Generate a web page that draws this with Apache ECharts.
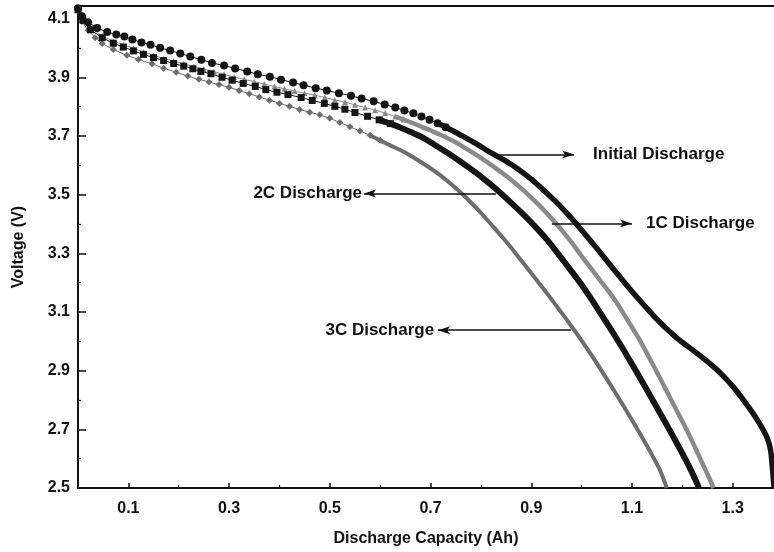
<!DOCTYPE html>
<html>
<head>
<meta charset="UTF-8">
<script src="https://cdn.jsdelivr.net/npm/echarts@6/dist/echarts.min.js"></script>
<style>
  html, body { margin: 0; padding: 0; background: #fff; }
  #chart { width: 774px; height: 552px; }
</style>
</head>
<body>
<div id="chart"></div>
<script>
// discharge curves: [capacity (Ah), voltage (V)]
var initialDischarge = [
  [0.000,4.135],[0.008,4.108],[0.020,4.088],[0.038,4.068],[0.058,4.054],[0.076,4.046],[0.092,4.039],
  [0.108,4.029],[0.126,4.019],[0.144,4.011],[0.163,4.001],[0.183,3.991],[0.203,3.981],[0.223,3.971],
  [0.245,3.960],[0.266,3.949],[0.290,3.940],[0.312,3.930],[0.336,3.920],[0.357,3.910],[0.381,3.902],
  [0.403,3.892],[0.427,3.882],[0.448,3.873],[0.472,3.863],[0.494,3.855],[0.518,3.846],[0.542,3.837],
  [0.563,3.828],[0.587,3.818],[0.609,3.807],[0.630,3.797],[0.648,3.787],[0.666,3.777],[0.682,3.766],
  [0.698,3.755],[0.714,3.743],[0.730,3.730],[0.746,3.716],[0.763,3.700],[0.780,3.684],[0.797,3.667],
  [0.812,3.651],[0.826,3.637],[0.848,3.616],[0.870,3.592],[0.900,3.553],[0.929,3.508],[0.955,3.465],
  [0.980,3.419],[1.000,3.379],[1.032,3.313],[1.064,3.245],[1.098,3.174],[1.134,3.104],[1.156,3.064],
  [1.174,3.034],[1.190,3.010],[1.208,2.986],[1.233,2.954],[1.259,2.918],[1.280,2.884],[1.299,2.849],
  [1.317,2.810],[1.333,2.772],[1.347,2.737],[1.358,2.706],[1.366,2.680],[1.372,2.653],[1.376,2.620],
  [1.378,2.585],[1.380,2.545],[1.382,2.503]
];
var discharge1C = [
  [0.000,4.132],[0.010,4.098],[0.025,4.070],[0.048,4.040],[0.070,4.024],[0.090,4.011],[0.110,3.999],
  [0.130,3.986],[0.150,3.975],[0.170,3.964],[0.190,3.955],[0.210,3.946],[0.230,3.937],[0.250,3.928],
  [0.270,3.919],[0.290,3.910],[0.310,3.901],[0.330,3.893],[0.350,3.885],[0.370,3.877],[0.390,3.869],
  [0.410,3.861],[0.430,3.853],[0.450,3.846],[0.470,3.839],[0.490,3.831],[0.510,3.823],[0.530,3.815],
  [0.550,3.806],[0.570,3.797],[0.590,3.788],[0.610,3.778],[0.630,3.766],[0.647,3.756],[0.663,3.745],
  [0.680,3.733],[0.697,3.721],[0.714,3.708],[0.731,3.695],[0.748,3.680],[0.765,3.663],[0.783,3.644],
  [0.800,3.625],[0.818,3.604],[0.836,3.582],[0.853,3.560],[0.870,3.536],[0.890,3.506],[0.912,3.470],
  [0.935,3.429],[0.958,3.384],[0.980,3.337],[1.001,3.288],[1.034,3.214],[1.068,3.136],[1.092,3.070],
  [1.114,3.008],[1.134,2.945],[1.154,2.880],[1.181,2.790],[1.208,2.700],[1.224,2.643],[1.239,2.587],
  [1.250,2.547],[1.259,2.512],[1.262,2.500]
];
var discharge2C = [
  [0.000,4.130],[0.010,4.094],[0.025,4.062],[0.048,4.035],[0.070,4.016],[0.090,4.003],[0.110,3.990],
  [0.130,3.978],[0.150,3.967],[0.170,3.957],[0.190,3.947],[0.210,3.938],[0.228,3.929],[0.244,3.920],
  [0.264,3.912],[0.286,3.900],[0.306,3.890],[0.328,3.879],[0.352,3.869],[0.373,3.858],[0.395,3.849],
  [0.417,3.841],[0.443,3.831],[0.465,3.821],[0.489,3.811],[0.510,3.801],[0.530,3.791],[0.550,3.780],
  [0.575,3.767],[0.598,3.755],[0.620,3.742],[0.640,3.729],[0.660,3.714],[0.683,3.696],[0.707,3.671],
  [0.731,3.645],[0.754,3.619],[0.777,3.591],[0.802,3.559],[0.826,3.525],[0.850,3.488],[0.876,3.446],
  [0.905,3.396],[0.932,3.345],[0.965,3.272],[1.001,3.190],[1.028,3.121],[1.055,3.049],[1.074,2.997],
  [1.094,2.940],[1.114,2.881],[1.141,2.800],[1.168,2.718],[1.188,2.656],[1.207,2.595],[1.219,2.554],
  [1.229,2.516],[1.233,2.500]
];
var discharge3C = [
  [0.000,4.128],[0.008,4.090],[0.020,4.060],[0.034,4.035],[0.048,4.015],[0.070,3.995],[0.097,3.975],
  [0.120,3.961],[0.147,3.946],[0.170,3.931],[0.195,3.917],[0.218,3.904],[0.240,3.893],[0.260,3.884],
  [0.280,3.875],[0.300,3.866],[0.320,3.855],[0.340,3.844],[0.360,3.833],[0.380,3.822],[0.400,3.811],
  [0.420,3.801],[0.440,3.790],[0.460,3.781],[0.480,3.772],[0.500,3.760],[0.520,3.746],[0.540,3.731],
  [0.560,3.717],[0.580,3.702],[0.600,3.685],[0.620,3.668],[0.640,3.652],[0.663,3.630],[0.690,3.601],
  [0.717,3.569],[0.743,3.533],[0.763,3.502],[0.783,3.468],[0.802,3.434],[0.830,3.380],[0.850,3.340],
  [0.870,3.298],[0.902,3.228],[0.935,3.155],[0.968,3.079],[0.985,3.039],[1.001,3.000],[1.020,2.952],
  [1.041,2.896],[1.068,2.822],[1.094,2.749],[1.118,2.679],[1.140,2.612],[1.155,2.563],[1.166,2.515],
  [1.169,2.500]
];

var xTickLabels = [0.1, 0.3, 0.5, 0.7, 0.9, 1.1, 1.3];
var xMinorTicks = [0.2, 0.4, 0.6, 0.8, 1.0, 1.2];
var yTickLabels = [2.5, 2.7, 2.9, 3.1, 3.3, 3.5, 3.7, 3.9, 4.1];
var yMinorTicks = [2.6, 2.8, 3.0, 3.2, 3.4, 3.6, 3.8, 4.0];

var FONT = "'Liberation Sans', Arial, sans-serif";
var INK = '#111';
var X_MAX = 1.382, Y_MIN = 2.5, Y_MAX = 4.143;

// split = where the markers merge into a solid band in the figure
var curves = [
  { name: '3C Discharge', data: discharge3C, symbol: 'diamond', size: 7, color: '#6d6d6d',
    split: 0.60, band: 4, arrow: [[0.979, 3.038], [0.715, 3.038]], gap: 4 },
  { name: '1C Discharge', data: discharge1C, symbol: 'triangle', size: 6, color: '#8a8a8a',
    split: 0.66, band: 4.5, arrow: [[0.941, 3.402], [1.100, 3.402]], gap: 14 },
  { name: '2C Discharge', data: discharge2C, symbol: 'rect', size: 7, color: '#151515',
    split: 0.62, band: 6, arrow: [[0.830, 3.504], [0.568, 3.504]], gap: 2 },
  { name: 'Initial Discharge', data: initialDischarge, symbol: 'circle', size: 8, color: '#151515',
    split: 0.74, band: 5.5, arrow: [[0.822, 3.637], [0.985, 3.637]], gap: 19 }
];

var series = [];
curves.forEach(function (c) {
  series.push({
    type: 'line',
    name: c.name,
    data: c.data.filter(function (p) { return p[0] <= c.split; }),
    symbol: c.symbol,
    symbolSize: c.size,
    itemStyle: { color: c.color },
    lineStyle: { color: c.color, width: 1 },
    animation: false
  });
  series.push({
    type: 'line',
    data: c.data.filter(function (p) { return p[0] >= c.split - 0.03; }),
    symbol: 'none',
    smooth: 0.3,
    lineStyle: { color: c.color, width: c.band },
    animation: false,
    markLine: {
      silent: true,
      animation: false,
      symbol: ['none', 'arrow'],
      symbolSize: [6, 12],
      lineStyle: { color: INK, width: 1.5, type: 'solid' },
      label: {
        show: true, position: 'end', distance: c.gap, formatter: c.name,
        color: INK, fontSize: 17, fontWeight: 'bold', fontFamily: FONT
      },
      data: [[{ coord: c.arrow[0] }, { coord: c.arrow[1] }]]
    }
  });
});

var labelStyle = { color: INK, fontSize: 16, fontWeight: 'bold', fontFamily: FONT };

var chart = echarts.init(document.getElementById('chart'));
chart.setOption({
  backgroundColor: '#fff',
  animation: false,
  grid: { left: 78, right: 0, top: 6, bottom: 64 },
  xAxis: [
    {
      type: 'value', min: 0, max: X_MAX, position: 'bottom',
      name: 'Discharge Capacity (Ah)', nameLocation: 'middle', nameGap: 43,
      nameTextStyle: labelStyle,
      axisLine: { lineStyle: { color: INK, width: 2 } },
      axisTick: { inside: true, length: 5, customValues: xTickLabels, lineStyle: { color: INK, width: 1.5 } },
      axisLabel: Object.assign({ customValues: xTickLabels, margin: 13 }, labelStyle),
      splitLine: { show: false }
    },
    {
      type: 'value', min: 0, max: X_MAX, position: 'bottom',
      axisLine: { show: false },
      axisTick: { inside: true, length: 3, customValues: xMinorTicks, lineStyle: { color: INK, width: 1.2 } },
      axisLabel: { show: false },
      splitLine: { show: false }
    },
    {
      type: 'value', min: 0, max: X_MAX, position: 'top',
      axisLine: { lineStyle: { color: INK, width: 2 } },
      axisTick: { show: false }, axisLabel: { show: false }, splitLine: { show: false }
    }
  ],
  yAxis: [
    {
      type: 'value', min: Y_MIN, max: Y_MAX, position: 'left',
      name: 'Voltage (V)', nameLocation: 'middle', nameGap: 51,
      nameTextStyle: labelStyle,
      axisLine: { lineStyle: { color: INK, width: 2 } },
      axisTick: { inside: true, length: 8, customValues: yTickLabels, lineStyle: { color: INK, width: 1.5 } },
      axisLabel: Object.assign({ customValues: yTickLabels, margin: 8 }, labelStyle),
      splitLine: { show: false }
    },
    {
      type: 'value', min: Y_MIN, max: Y_MAX, position: 'left',
      axisLine: { show: false },
      axisTick: { inside: true, length: 3, customValues: yMinorTicks, lineStyle: { color: INK, width: 1.2 } },
      axisLabel: { show: false },
      splitLine: { show: false }
    }
  ],
  series: series
});
</script>
</body>
</html>
